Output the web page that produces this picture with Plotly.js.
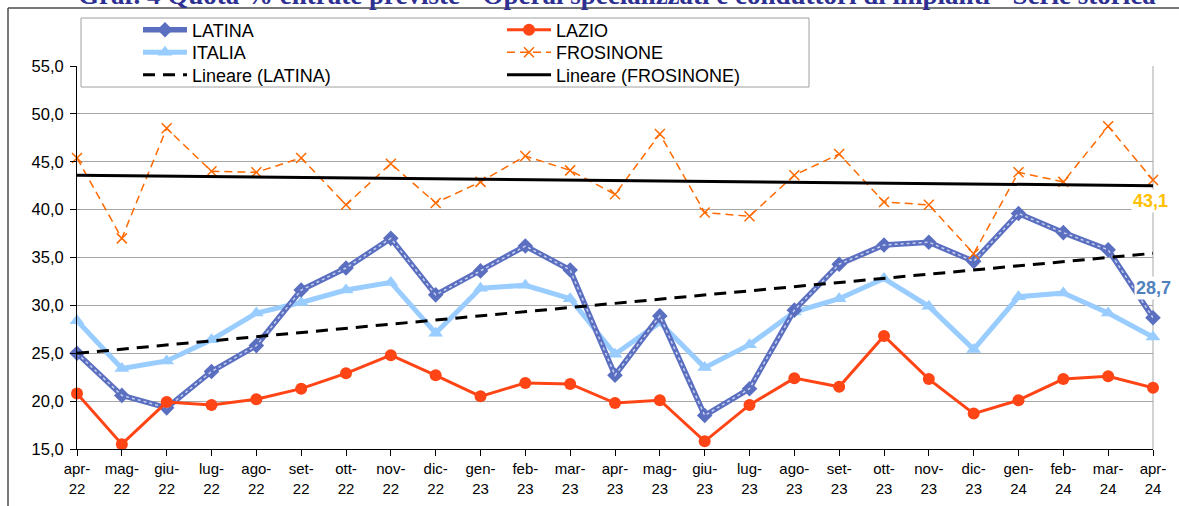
<!DOCTYPE html>
<html>
<head>
<meta charset="utf-8">
<script src="https://cdn.plot.ly/plotly-3.0.1.min.js"></script>
<style>html,body{margin:0;padding:0;background:#fff;} #chart{width:1179px;height:506px;}</style>
</head>
<body>
<div id="chart"></div>
<script>
// ---- data ----
const categories = ["apr-22","mag-22","giu-22","lug-22","ago-22","set-22","ott-22","nov-22","dic-22","gen-23","feb-23","mar-23","apr-23","mag-23","giu-23","lug-23","ago-23","set-23","ott-23","nov-23","dic-23","gen-24","feb-24","mar-24","apr-24"];
const latina    = [25.0,20.6,19.3,23.1,25.8,31.6,33.9,37.0,31.1,33.6,36.2,33.7,22.7,28.9,18.5,21.3,29.5,34.3,36.3,36.6,34.6,39.6,37.6,35.8,28.7];
const lazio     = [20.8,15.5,19.9,19.6,20.2,21.3,22.9,24.8,22.7,20.5,21.9,21.8,19.8,20.1,15.8,19.6,22.4,21.5,26.8,22.3,18.7,20.1,22.3,22.6,21.4];
const italia    = [28.4,23.4,24.2,26.4,29.2,30.3,31.6,32.4,27.1,31.8,32.1,30.7,24.9,28.2,23.5,25.9,29.3,30.7,32.8,29.9,25.4,30.9,31.3,29.2,26.7];
const frosinone = [45.4,37.0,48.5,44.0,43.9,45.4,40.5,44.8,40.7,42.9,45.6,44.1,41.6,47.9,39.7,39.3,43.6,45.8,40.8,40.5,35.4,43.9,42.9,48.7,43.1];
const yTicks = [15,20,25,30,35,40,45,50,55];
const titleText = "Graf. 4 Quota % entrate previste - Operai specializzati e conduttori di impianti - Serie storica";

// linear trend (least squares) as Excel "Lineare"
function linear(ys){
  const n = ys.length; let sx=0, sy=0, sxx=0, sxy=0;
  ys.forEach((y,i)=>{sx+=i; sy+=y; sxx+=i*i; sxy+=i*y;});
  const b = (n*sxy - sx*sy)/(n*sxx - sx*sx), a = (sy - b*sx)/n;
  return ys.map((_,i)=>a+b*i);
}
const trendLatina = linear(latina);
const trendFrosinone = linear(frosinone);
const tickText = categories.map(c=>c.replace("-","-<br>"));

// ---- layout helpers (pixel -> paper) ----
const L=77, R=1153, T=66, B=449;
const px = x => (x-L)/(R-L);
const py = y => (B-y)/(B-T);

const FONT = "Liberation Sans, Arial, sans-serif";
const cLatina="#5b6fc0", cLazio="#ff4515", cItalia="#99ccff", cFros="#ff6a00";

const traces = [
  {x:categories, y:italia, name:"ITALIA", type:"scatter", mode:"lines+markers", legend:"legend3",
   line:{color:cItalia,width:5}, marker:{symbol:"triangle-up",size:13,color:cItalia}, cliponaxis:false},
  {x:categories, y:latina, name:"LATINA", type:"scatter", mode:"lines+markers", legend:"legend",
   line:{color:cLatina,width:5.5}, marker:{symbol:"diamond",size:12,color:cLatina}, cliponaxis:false},
  {x:categories, y:latina, name:"LATINA", type:"scatter", mode:"lines", showlegend:false, hoverinfo:"skip",
   line:{color:"#c7cff0",width:1.5,dash:"dot"}, cliponaxis:false},
  {x:categories, y:lazio, name:"LAZIO", type:"scatter", mode:"lines+markers", legend:"legend2",
   line:{color:cLazio,width:3}, marker:{symbol:"circle",size:12,color:cLazio}, cliponaxis:false},
  {x:categories, y:frosinone, name:"FROSINONE", type:"scatter", mode:"lines+markers", legend:"legend4",
   line:{color:cFros,width:1.5,dash:"8px,5px"}, marker:{symbol:"x-thin",size:10,line:{color:cFros,width:1.5}}, cliponaxis:false},
  {x:categories, y:trendLatina, name:"Lineare (LATINA)", type:"scatter", mode:"lines", legend:"legend5",
   line:{color:"#000",width:3,dash:"12px,8px"}},
  {x:categories, y:trendFrosinone, name:"Lineare (FROSINONE)", type:"scatter", mode:"lines", legend:"legend6",
   line:{color:"#000",width:3}}
];

const legFont = {family:FONT,size:18,color:"#000"};
function leg(xPix, yPix){
  return {x:px(xPix), xanchor:"left", y:py(yPix), yanchor:"middle", bgcolor:"rgba(0,0,0,0)", borderwidth:0,
          font:legFont, itemwidth:44};
}
const col1 = 138, col2 = 502, rows = [30, 52.5, 75];

const lastIdx = categories.length-1;
const layout = {
  width:1179, height:506,
  margin:{l:L, r:1179-R, t:T, b:506-B},
  paper_bgcolor:"#fff", plot_bgcolor:"rgba(0,0,0,0)",
  separators:",.",
  font:{family:FONT, size:16, color:"#000"},
  showlegend:true,
  legend:leg(col1, rows[0]), legend2:leg(col2, rows[0]),
  legend3:leg(col1, rows[1]), legend4:leg(col2, rows[1]),
  legend5:leg(col1, rows[2]), legend6:leg(col2, rows[2]),
  xaxis:{type:"category", range:[0,lastIdx], tickmode:"array", tickvals:categories, ticktext:tickText,
         showline:true, linecolor:"#000", linewidth:1, ticks:"outside", ticklen:6, tickcolor:"#000",
         showgrid:false, zeroline:false, tickfont:{family:FONT,size:15,color:"#000"}, fixedrange:true},
  yaxis:{range:[15,55], tickmode:"array", tickvals:yTicks, tickformat:".1f",
         showline:true, linecolor:"#000", linewidth:1, ticks:"outside", ticklen:6, tickcolor:"#000",
         ticklabelstandoff:3,
         showgrid:true, gridcolor:"#a6a6a6", gridwidth:1, zeroline:false,
         tickfont:{family:FONT,size:16.5,color:"#000"}, fixedrange:true},
  shapes:[
    // outer frame
    {type:"line", xref:"paper", yref:"paper", x0:px(8), x1:px(1182), y0:py(8), y1:py(8), line:{color:"#4d4d4d",width:1.5}},
    {type:"line", xref:"paper", yref:"paper", x0:px(8), x1:px(8), y0:py(8), y1:py(510), line:{color:"#4d4d4d",width:1.5}},
    // right plot edge
    {type:"line", xref:"paper", yref:"paper", x0:1, x1:1, y0:0, y1:1, line:{color:"#a6a6a6",width:1}, layer:"below"},
    // legend box
    {type:"rect", xref:"paper", yref:"paper", x0:px(81), x1:px(809), y0:py(87), y1:py(18),
     line:{color:"#a0a0a0",width:1}, fillcolor:"#fff", layer:"above"}
  ],
  annotations:[
    {text:"<b>"+titleText+"</b>", xref:"paper", yref:"paper", x:px(617), y:py(-4.5), xanchor:"center", yanchor:"middle",
     showarrow:false, font:{family:"Liberation Serif, Times New Roman, serif", size:27, color:"#2e3192"}},
    {text:"<b>"+frosinone[lastIdx].toFixed(1).replace(".",",")+"</b>", x:categories[lastIdx], y:frosinone[lastIdx],
     xref:"x", yref:"y", showarrow:false, xshift:-3, yshift:-21, bgcolor:"#fff",
     font:{family:FONT,size:18,color:"#ffc000"}},
    {text:"<b>"+latina[lastIdx].toFixed(1).replace(".",",")+"</b>", x:categories[lastIdx], y:latina[lastIdx],
     xref:"x", yref:"y", showarrow:false, xshift:0, yshift:30, bgcolor:"#fff",
     font:{family:FONT,size:18,color:"#4f81bd"}}
  ]
};

Plotly.newPlot("chart", traces, layout, {displayModeBar:false, staticPlot:true});
</script>
</body>
</html>
